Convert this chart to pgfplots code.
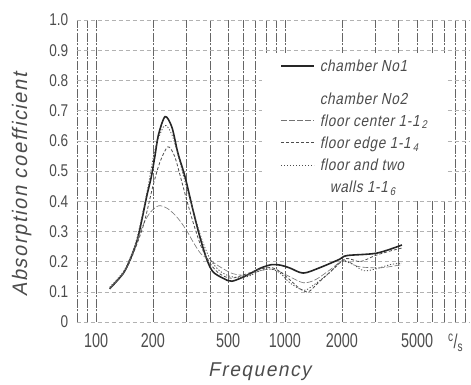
\documentclass[border=0pt]{standalone}
\usepackage{pgfplots}
\pgfplotsset{compat=1.18}
\usepackage{pgfplotstable}
\usepackage{fontspec}
\setmainfont{Liberation Sans}
\newfontfamily\xtickfont[FakeStretch=0.72]{Liberation Sans}
\newfontfamily\ytickfont[FakeStretch=0.8]{Liberation Sans}
\newfontfamily\labfont[FakeSlant=0.2,FakeStretch=0.95,LetterSpace=8]{Liberation Sans}
\newfontfamily\legfont[FakeSlant=0.2,FakeStretch=0.85,LetterSpace=4]{Liberation Sans}
\newcommand\sub[1]{\kern2pt\textsubscript{#1}}

\pgfplotstableread{
f v
118 0.11
139 0.16
151 0.205
165 0.27
175 0.34
186 0.42
196 0.48
205 0.55
214 0.62
232 0.68
252 0.645
271 0.56
296 0.48
326 0.37
355 0.28
387 0.205
416 0.166
470 0.145
524 0.135
630 0.155
740 0.178
850 0.19
950 0.188
1060 0.179
1250 0.162
1530 0.18
1950 0.208
2130 0.22
3060 0.228
4160 0.255
}\chamberone

\pgfplotstableread{
f v
118 0.11
139 0.16
151 0.205
165 0.27
180 0.33
195 0.365
215 0.385
240 0.375
270 0.345
300 0.305
330 0.26
360 0.225
400 0.205
460 0.18
530 0.16
630 0.155
740 0.17
850 0.175
950 0.165
1060 0.15
1250 0.13
1450 0.14
1750 0.175
2050 0.205
2400 0.185
2800 0.18
3300 0.18
4160 0.19
}\floorcenter

\pgfplotstableread{
f v
118 0.11
139 0.16
151 0.2
165 0.26
180 0.33
200 0.45
218 0.53
240 0.58
260 0.55
280 0.48
300 0.41
330 0.32
360 0.25
400 0.195
450 0.16
520 0.145
630 0.16
740 0.175
850 0.18
950 0.165
1060 0.14
1200 0.11
1330 0.10
1500 0.13
1800 0.175
2100 0.21
2500 0.20
3000 0.22
3600 0.235
4160 0.245
}\flooredge

\pgfplotstableread{
f v
118 0.115
139 0.165
151 0.21
165 0.28
186 0.43
205 0.57
230 0.65
252 0.62
275 0.54
300 0.45
330 0.36
360 0.28
400 0.21
450 0.17
520 0.15
630 0.15
740 0.17
850 0.175
950 0.16
1060 0.13
1250 0.105
1400 0.12
1700 0.16
2000 0.2
2300 0.19
2600 0.17
3000 0.175
3600 0.19
4160 0.195
}\floorwalls

\begin{document}
\begin{tikzpicture}
\begin{axis}[
  at={(76.7pt,63pt)}, anchor=south west,
  scale only axis, width=393pt, height=302pt,
  xmode=log, xmin=79, xmax=9500, ymin=0, ymax=1,
  axis line style={draw=none},
  xtick={80,90,100,200,300,400,500,600,700,800,900,1000,2000,3000,4000,5000,6000,7000,8000,9000},
  xticklabels={,,100,200,,,500,,,,,1000,2000,,,5000,,,\textsuperscript{c}/\textsubscript{s},},
  ytick={0,0.1,0.2,0.3,0.4,0.5,0.6,0.7,0.8,0.9,1.0},
  yticklabels={0,0.1,0.2,0.3,0.4,0.5,0.6,0.7,0.8,0.9,1.0},
  major tick length=0pt, minor tick num=0, minor tick length=0pt,
  xticklabel style={font=\xtickfont\fontsize{20}{24}\selectfont, text=black!70, yshift=-8pt},
  yticklabel style={font=\ytickfont\fontsize{17}{20}\selectfont, text=black!70, xshift=-5pt},
  grid=major,
  major x grid style={black!60, line width=0.6pt, dash pattern=on 9pt off 1.5pt on 2pt off 1.5pt},
  major y grid style={black!30, line width=0.5pt, dash pattern=on 4pt off 3pt},
  xlabel={Frequency}, ylabel={Absorption coefficient},
  every axis x label/.style={at={(axis description cs:0.465,-0.166)}, anchor=center, font=\labfont\fontsize{20}{24}\selectfont, text=black!70},
  every axis y label/.style={at={(axis description cs:-0.14,0.454)}, anchor=center, rotate=90, font=\labfont\fontsize{21}{24}\selectfont, text=black!70},
  legend cell align=left,
  legend image code/.code={\draw[#1] (0pt,0pt) -- (33pt,0pt);},
  legend style={at={(axis description cs:0.4715,0.891)}, anchor=north west,
    draw=none, fill=white, inner xsep=18pt, inner ysep=4pt, row sep=4pt,
    font=\legfont\fontsize{16}{18}\selectfont, text=black!70,
    cells={anchor=west, inner ysep=0pt},
    /tikz/every odd column/.append style={column sep=3pt}},
]
\addplot[black!85, line width=1.6pt, smooth, tension=0.5] table[x=f,y=v] {\chamberone};
\addlegendentry{\strut chamber No1}
\addlegendimage{empty legend}
\addlegendentry{\rule{0pt}{23pt}chamber No2}
\addplot[black!55, line width=0.6pt, dash pattern=on 6pt off 2pt, smooth, tension=0.5] table[x=f,y=v] {\floorcenter};
\addlegendentry{\strut floor center 1-1\sub{2}}
\addplot[black!70, line width=0.8pt, dash pattern=on 3pt off 2pt, smooth, tension=0.5] table[x=f,y=v] {\flooredge};
\addlegendentry{\strut floor edge 1-1\sub{4}}
\addplot[black!70, line width=0.8pt, dash pattern=on 1.2pt off 1.8pt, smooth, tension=0.5] table[x=f,y=v] {\floorwalls};
\addlegendentry{\strut floor and two}
\addlegendimage{empty legend}
\addlegendentry{\strut\hspace{10pt}walls 1-1\sub{6}}
\end{axis}
\pgfresetboundingbox
\useasboundingbox (0,0) rectangle (471pt,385pt);
\end{tikzpicture}
\end{document}
